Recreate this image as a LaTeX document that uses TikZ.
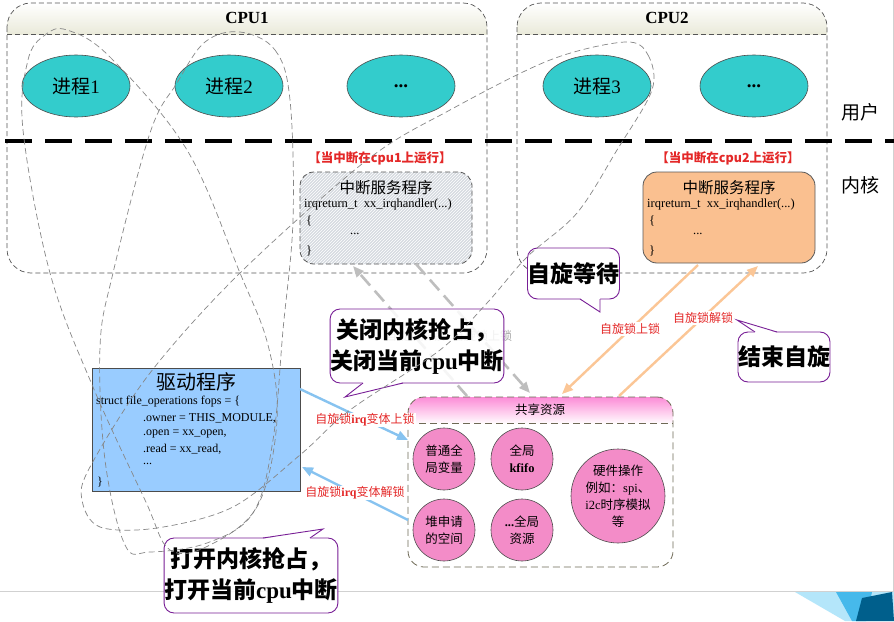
\documentclass[tikz,border=0pt]{standalone}
\usepackage{fontspec}
\setmainfont{Liberation Serif}
\newfontfamily\cjk{Noto Sans CJK SC}
\usetikzlibrary{arrows.meta,patterns,shapes.geometric}
\newcommand\lat[1]{{\rmfamily #1}}
\definecolor{tealc}{RGB}{51,204,204}
\definecolor{beige}{RGB}{234,234,218}
\definecolor{isrgray}{RGB}{214,218,224}
\definecolor{isrorange}{RGB}{250,192,144}
\definecolor{drvblue}{RGB}{153,204,255}
\definecolor{pinkc}{RGB}{243,140,200}
\definecolor{pinktop}{RGB}{252,140,215}
\definecolor{purplec}{RGB}{120,30,150}
\definecolor{redc}{RGB}{228,40,40}
\definecolor{grayarrow}{RGB}{190,190,190}
\definecolor{orangearrow}{RGB}{251,198,150}
\definecolor{bluearrow}{RGB}{135,195,240}
\definecolor{loopc}{RGB}{135,135,135}
\definecolor{borderc}{RGB}{85,85,85}
\definecolor{sharebord}{RGB}{110,105,85}
\definecolor{decolight}{RGB}{180,230,250}
\definecolor{decomid}{RGB}{70,185,235}
\definecolor{decodark}{RGB}{0,95,140}
\begin{document}
\begin{tikzpicture}[x=1pt,y=-1pt,
  cpuframe/.style={draw=borderc, dash pattern=on 5pt off 3pt, line width=0.7pt, rounded corners=24pt},
  proc/.style={ellipse, fill=tealc, draw=black!70, line width=0.6pt, minimum width=108pt, minimum height=62pt, inner sep=0pt, font=\fontsize{19}{22}\selectfont},
  redlbl/.style={text=redc, font=\cjk\bfseries\fontsize{12.5}{14}\selectfont, inner sep=1pt},
  code/.style={anchor=west, inner sep=0pt, font=\fontsize{12.5}{14}\selectfont},
  dcode/.style={anchor=west, inner sep=0pt, font=\fontsize{12}{14}\selectfont},
  res/.style={circle, fill=pinkc, draw=black!70, line width=0.6pt, minimum size=62pt, inner sep=0pt, align=center, font=\cjk\fontsize{12.5}{17}\selectfont},
  callbox/.style={draw=purplec, line width=0.9pt, fill=white, fill opacity=0.85, text opacity=1, rounded corners=10pt, inner sep=0pt, align=center, font=\cjk\bfseries\fontsize{23}{31}\selectfont},
  tailline/.style={draw=purplec, line width=0.9pt},
  grayarr/.style={draw=grayarrow, line width=2.6pt, dash pattern=on 14pt off 7pt, -{Triangle[length=11pt,width=9pt]}},
  orarr/.style={draw=orangearrow, line width=2.4pt, -{Triangle[length=11pt,width=9pt]}},
  bluarr/.style={draw=bluearrow, line width=2.4pt, -{Triangle[length=11pt,width=9pt]}},
  arrlbl/.style={fill=white, inner sep=1pt, text=redc, font=\cjk\fontsize{12}{14}\selectfont},
  graylbl/.style={inner sep=1pt, text=black!35, font=\cjk\fontsize{12}{14}\selectfont},
  loopline/.style={draw=loopc, line width=0.7pt, dash pattern=on 6pt off 3.5pt},
]
\useasboundingbox (0,0) rectangle (894,621);
\fill[white] (0,0) rectangle (894,621);

% slide decoration
\draw[black!18, line width=0.8pt] (0,591) -- (894,591);
\draw[black!18, line width=0.8pt] (893,0) -- (893,591);
\fill[decolight] (795,592) -- (894,592) -- (894,621) -- (845,621) -- cycle;
\fill[decomid] (836,592) -- (872,592) -- (866,621) -- (852,621) -- cycle;
\fill[decodark] (862,598) -- (892,592) -- (894,621) -- (856,621) -- cycle;

% CPU frames
\begin{scope}
\clip[rounded corners=24pt] (7,3) rectangle (487,273);
\shade[top color=white, bottom color=beige] (7,3) rectangle (487,34);
\end{scope}
\draw[cpuframe] (7,3) rectangle (487,273);
\draw[borderc, dash pattern=on 5pt off 3pt, line width=0.7pt] (7,34) -- (487,34);
\node[font=\bfseries\fontsize{17}{20}\selectfont] (cpu1) at (247,18) {CPU1};

\begin{scope}
\clip[rounded corners=24pt] (517,3) rectangle (827,273);
\shade[top color=white, bottom color=beige] (517,3) rectangle (827,34);
\end{scope}
\draw[cpuframe] (517,3) rectangle (827,273);
\draw[borderc, dash pattern=on 5pt off 3pt, line width=0.7pt] (517,34) -- (827,34);
\node[font=\bfseries\fontsize{17}{20}\selectfont] (cpu2) at (667,18) {CPU2};

% user / kernel divider
\draw[black, line width=4pt, dash pattern=on 27pt off 13pt] (5,141) -- (894,141);
\node[font=\cjk\fontsize{19}{22}\selectfont] (user) at (860,112) {用户};
\node[font=\cjk\fontsize{19}{22}\selectfont] (kern) at (860,185) {内核};

% processes
\node[proc] (p1) at (76,86) {{\cjk 进程}1};
\node[proc] (p2) at (229,86) {{\cjk 进程}2};
\node[proc] (p3) at (401,86) {\textbf{...}};
\node[proc] (p4) at (597,86) {{\cjk 进程}3};
\node[proc] (p5) at (754,86) {\textbf{...}};

% ISR on cpu1
\node[redlbl] (run1) at (380,158) {【当中断在cpu1上运行】};
\fill[isrgray, rounded corners=14pt] (300,172) rectangle (472,264);
\fill[pattern=north east lines, pattern color=white, rounded corners=14pt] (300,172) rectangle (472,264);
\node[draw=borderc, dash pattern=on 5pt off 3pt, rounded corners=14pt, line width=0.8pt, minimum width=172pt, minimum height=92pt, inner sep=0pt] (isr1) at (386,218) {};
\node[font=\cjk\fontsize{15.5}{17}\selectfont] (isr1t) at (386,188) {中断服务程序};
\node[code] (isr1c) at (304,204) {irqreturn\_t\ \ xx\_irqhandler(...)};
\node[code] (isr1o) at (306,221) {\{};
\node[code] (isr1d) at (350,234) {...};
\node[code] (isr1e) at (306,251) {\}};

% ISR on cpu2
\node[redlbl] (run2) at (728,158) {【当中断在cpu2上运行】};
\node[draw=black!65, fill=isrorange, rounded corners=14pt, line width=0.8pt, minimum width=172pt, minimum height=91pt, inner sep=0pt] (isr2) at (729,217.5) {};
\node[font=\cjk\fontsize{15.5}{17}\selectfont] (isr2t) at (729,188) {中断服务程序};
\node[code] (isr2c) at (647,204) {irqreturn\_t\ \ xx\_irqhandler(...)};
\node[code] (isr2o) at (649,221) {\{};
\node[code] (isr2d) at (693,234) {...};
\node[code] (isr2e) at (649,251) {\}};

% driver
\node[draw=black!70, fill=drvblue, line width=0.8pt, minimum width=208pt, minimum height=123pt, inner sep=0pt] (drv) at (196,429.5) {};
\node[font=\cjk\fontsize{20}{22}\selectfont] (drvt) at (196,382) {驱动程序};
\node[dcode] (d1) at (96,402) {struct file\_operations fops = \{};
\node[dcode] (d2) at (143,418) {.owner = THIS\_MODULE,};
\node[dcode] (d3) at (143,434) {.open = xx\_open,};
\node[dcode] (d4) at (143,449) {.read = xx\_read,};
\node[dcode] (d5) at (143,464) {...};
\node[dcode] (d6) at (97,482) {\}};

% shared resources
\begin{scope}
\clip[rounded corners=16pt] (408,397) rectangle (673,567);
\shade[top color=pinktop, bottom color=white] (408,397) rectangle (673,424);
\end{scope}
\node[draw=sharebord, dash pattern=on 7pt off 4pt, rounded corners=16pt, line width=0.8pt, minimum width=265pt, minimum height=170pt, inner sep=0pt] (share) at (540.5,482) {};
\draw[sharebord, dash pattern=on 7pt off 4pt, line width=0.8pt] (408,423) -- (673,423);
\node[font=\cjk\fontsize{12.5}{14}\selectfont] (sharet) at (540,410) {共享资源};
\node[res] (r1) at (444,459) {普通全\\局变量};
\node[res] (r2) at (522,459) {全局\\\lat{\bfseries kfifo}};
\node[res] (r3) at (444,530) {堆申请\\的空间};
\node[res] (r4) at (522,530) {\lat{\bfseries ...}全局\\资源};
\node[res, minimum size=94pt] (r5) at (618,496) {硬件操作\\例如：\lat{spi}、\\\lat{i2c}时序模拟\\等};

% arrows
\coordinate (g1s) at (467,396); \coordinate (g1e) at (353,266);
\coordinate (g2s) at (416,264); \coordinate (g2e) at (530,393);
\draw[grayarr] (g1s) -- (g1e);
\draw[grayarr] (g2s) -- (g2e);
\node[graylbl] (gl1) at (415,336) {自旋锁解锁};
\node[graylbl] (gl2) at (482,336) {自旋锁上锁};

\coordinate (o1s) at (698,265); \coordinate (o1e) at (562,394);
\coordinate (o2s) at (619,396); \coordinate (o2e) at (758,266);
\draw[orarr] (o1s) -- (o1e);
\draw[orarr] (o2s) -- (o2e);
\node[arrlbl] (ol1) at (630,329) {自旋锁上锁};
\node[arrlbl] (ol2) at (703,318) {自旋锁解锁};

\coordinate (b1s) at (300,389); \coordinate (b1e) at (408,440);
\coordinate (b2s) at (408,520); \coordinate (b2e) at (302,467);
\draw[bluarr] (b1s) -- (b1e);
\draw[bluarr] (b2s) -- (b2e);
\node[arrlbl] (bl1) at (365,420) {自旋锁{\rmfamily\bfseries irq}变体上锁};
\node[arrlbl] (bl2) at (355,493) {自旋锁{\rmfamily\bfseries irq}变体解锁};

% callouts
\node[callbox, minimum width=87pt, minimum height=51pt] (cw) at (573.5,273.5) {自旋等待};
\fill[white] (580,298.2) -- (600,312) -- (600,298.2) -- cycle;
\draw[tailline] (580,299) -- (600,312) -- (600,299);

\node[callbox, minimum width=86pt, minimum height=50pt] (ce) at (784,357) {结束自旋};
\fill[white] (755,332.8) -- (737,320) -- (777,332.8) -- cycle;
\draw[tailline] (755,332) -- (737,320) -- (777,332);

\node[callbox, minimum width=164pt, minimum height=74pt] (cc) at (417,346) {关闭内核抢占，\\关闭当前{\rmfamily cpu}中断};
\fill[white] (363,382.2) -- (345,397) -- (403,382.2) -- cycle;
\draw[tailline] (363,383) -- (345,397) -- (403,383);

\node[callbox, minimum width=168pt, minimum height=75pt] (co) at (251,575.5) {打开内核抢占，\\打开当前{\rmfamily cpu}中断};
\fill[white] (263,538.8) -- (323,529) -- (310,538.8) -- cycle;
\draw[tailline] (263,538) -- (323,529) -- (310,538);

% execution loops
\draw[loopline] plot[smooth cycle, tension=0.6] coordinates {(67,30) (110,57) (187,150) (240,273) (268,345) (277,420) (258,505) (210,545) (170,550) (145,500) (93,387) (50,273) (23,130) (28,60) (45,35)};
\draw[loopline] plot[smooth cycle, tension=0.6] coordinates {(240,32) (275,50) (290,100) (293,220) (283,330) (273,440) (253,513) (207,543) (150,552) (125,545) (105,460) (100,347) (113,273) (150,133) (177,83) (205,42)};
\draw[loopline] plot[smooth cycle, tension=0.55] coordinates {(625,42) (648,55) (652,90) (617,150) (577,213) (527,257) (487,303) (440,350) (350,410) (300,455) (233,507) (157,528) (100,527) (82,500) (90,467) (150,373) (240,273) (367,160) (450,110) (550,60)};
\end{tikzpicture}
\end{document}
